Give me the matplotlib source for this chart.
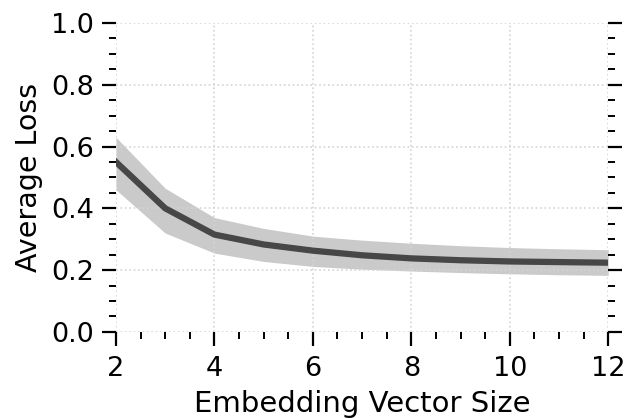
import numpy as np
import matplotlib.pyplot as plt
from matplotlib.ticker import MultipleLocator

# data
sizes = [2, 3, 4, 5, 6, 7, 8, 9, 10, 11, 12]
mean_loss = [0.55, 0.40, 0.315, 0.283, 0.263, 0.248, 0.238, 0.232, 0.228, 0.226, 0.224]
upper = [0.63, 0.465, 0.37, 0.335, 0.31, 0.297, 0.287, 0.279, 0.273, 0.269, 0.266]
lower = [0.46, 0.32, 0.255, 0.228, 0.212, 0.203, 0.197, 0.192, 0.188, 0.185, 0.183]

fig = plt.figure(figsize=(6.27, 4.18), dpi=100)
ax = fig.add_axes([0.185, 0.206, 0.785, 0.739])

ax.fill_between(sizes, lower, upper, color="#cacaca", lw=0)
ax.plot(sizes, mean_loss, color="#474747", lw=4.5)

ax.set_xlim(2, 12)
ax.set_ylim(0, 1)
ax.xaxis.set_major_locator(MultipleLocator(2))
ax.xaxis.set_minor_locator(MultipleLocator(0.5))
ax.yaxis.set_major_locator(MultipleLocator(0.2))
ax.yaxis.set_minor_locator(MultipleLocator(0.05))
ax.yaxis.set_major_formatter(lambda v, p: f"{v:.1f}")

for s in ax.spines.values():
    s.set_visible(False)
ax.grid(True, which="major", color="#d4d4d4", ls=":", lw=1.2)
ax.tick_params(which="both", direction="out", left=True, right=True, bottom=True,
               top=False, labelsize=19.5, colors="black")
ax.tick_params(which="major", length=10, width=1.6)
ax.tick_params(which="minor", length=5, width=1.4)
ax.tick_params(axis="x", which="major", pad=7)
ax.tick_params(axis="y", which="major", pad=6)

ax.set_xlabel("Embedding Vector Size", fontsize=21, labelpad=6)
ax.set_ylabel("Average Loss", fontsize=20.5, labelpad=6)

fig.savefig("out.png", dpi=100)
